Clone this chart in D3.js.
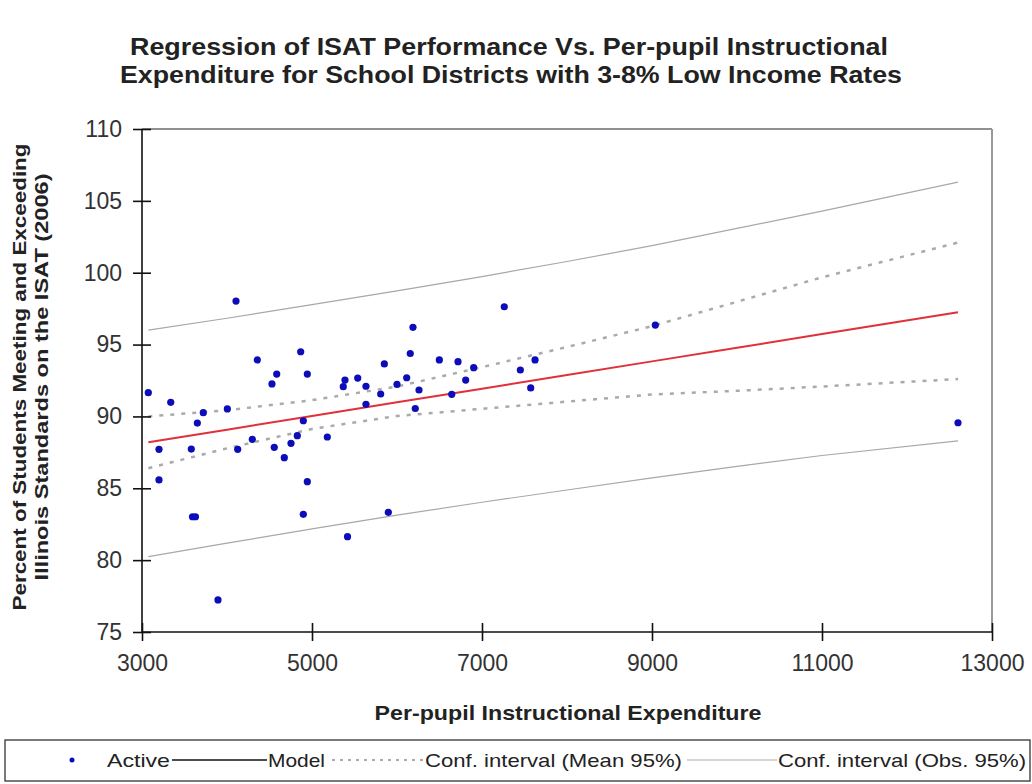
<!DOCTYPE html>
<html>
<head>
<meta charset="utf-8">
<script src="https://cdn.jsdelivr.net/npm/d3@7"></script>
<style>
  body { margin: 0; background: #fff; }
  svg { display: block; }
  text { font-family: "Liberation Sans", Arial, sans-serif; }
</style>
</head>
<body>
<svg id="chart" width="1032" height="784"></svg>
<script>
// Observations: per-pupil instructional expenditure vs. percent meeting/exceeding.
var spend = [3074, 3338, 3200, 3200, 3651, 3721, 3580, 3594, 3629, 4004,
             3894, 4126, 4298, 4356, 4585, 4529, 4867, 4945, 4898, 4827,
             4753, 4556, 4674, 5180, 4945, 4898, 5388, 5368, 5538, 5418,
             7262, 6188, 6156, 5851, 6498, 6718, 6902, 6808, 7451, 7624,
             7573, 5635, 5808, 5635, 6000, 6114, 6259, 6215, 6644, 5898,
             9039, 12600, 4106];
var score = [91.65, 90.98, 87.71, 85.58, 89.54, 90.26, 87.73, 83.02, 83.02, 90.52,
             77.23, 87.71, 88.41, 93.93, 92.95, 92.26, 94.5, 92.95, 89.7, 88.66,
             88.13, 87.85, 87.13, 88.57, 85.46, 83.19, 92.53, 92.07, 92.67, 81.63,
             97.63, 96.2, 94.38, 93.65, 93.93, 93.81, 93.39, 92.53, 93.23, 93.93,
             91.98, 92.1, 91.56, 90.84, 92.23, 92.69, 91.84, 90.55, 91.54, 83.33,
             96.36, 89.56, 98.03];

// Model line and confidence bands, read at these expenditures.
var bandX     = [3075, 4000, 5000, 6000, 7000, 8000, 9000, 10000, 11000, 12600];
var model     = [88.2, 89.08, 90.03, 90.98, 91.93, 92.88, 93.83, 94.78, 95.73, 97.25];
var meanUpper = [90.0, 90.43, 91.13, 92.08, 93.43, 94.83, 96.28, 97.98, 99.68, 102.1];
var meanLower = [86.4, 87.78, 89.13, 90.03, 90.53, 91.03, 91.53, 91.78, 92.08, 92.6];
var obsUpper  = [96.0, 96.83, 97.78, 98.73, 99.73, 100.78, 101.88, 103.08, 104.28, 106.3];
var obsLower  = [80.25, 81.18, 82.18, 83.13, 84.03, 84.88, 85.73, 86.53, 87.28, 88.3];

var xTicks = [3000, 5000, 7000, 9000, 11000, 13000];
var yTicks = [75, 80, 85, 90, 95, 100, 105, 110];

var svg = d3.select("#chart");

var x = d3.scaleLinear().domain([3000, 13000]).range([142, 992]);
var y = d3.scaleLinear().domain([75, 110]).range([632, 129]);

// Title
var title = svg.append("g").attr("font-weight", "bold").attr("font-size", 23)
    .attr("font-family", "'Liberation Sans Narrow', 'Liberation Sans', Arial, sans-serif")
    .attr("fill", "#222").attr("text-anchor", "middle");
title.append("text").attr("x", 509).attr("y", 55)
    .attr("textLength", 758).attr("lengthAdjust", "spacingAndGlyphs")
    .text("Regression of ISAT Performance Vs. Per-pupil Instructional");
title.append("text").attr("x", 511).attr("y", 83)
    .attr("textLength", 782).attr("lengthAdjust", "spacingAndGlyphs")
    .text("Expenditure for School Districts with 3-8% Low Income Rates");

// Frame: top line black, right line gray
svg.append("line").attr("x1", 142).attr("x2", 992).attr("y1", 129).attr("y2", 129)
    .attr("stroke", "#222").attr("stroke-width", 1.2);
svg.append("line").attr("x1", 992).attr("x2", 992).attr("y1", 129).attr("y2", 632)
    .attr("stroke", "#999").attr("stroke-width", 2);

// Lines
function lineOf(vals) {
    return d3.line()
        .x(function(d, i) { return x(bandX[i]); })
        .y(function(d) { return y(d); })(vals);
}

[obsUpper, obsLower].forEach(function(v) {
    svg.append("path").attr("d", lineOf(v)).attr("fill", "none")
        .attr("stroke", "#a8a8a8").attr("stroke-width", 1.2);
});
[meanUpper, meanLower].forEach(function(v) {
    svg.append("path").attr("d", lineOf(v)).attr("fill", "none")
        .attr("stroke", "#aaaaaa").attr("stroke-width", 2.5)
        .attr("stroke-dasharray", "4,7");
});
svg.append("path").attr("d", lineOf(model)).attr("fill", "none")
    .attr("stroke", "#e0303a").attr("stroke-width", 2);

// Points
svg.append("g").selectAll("circle")
    .data(d3.range(spend.length))
    .join("circle")
    .attr("cx", function(i) { return x(spend[i]); })
    .attr("cy", function(i) { return y(score[i]); })
    .attr("r", 3.6)
    .attr("fill", "#0c0cb8");

// Axes
var yAxis = svg.append("g").attr("transform", "translate(142,0)")
    .call(d3.axisLeft(y).tickValues(yTicks).tickSize(9).tickPadding(11));
yAxis.selectAll(".tick line").attr("x2", 9).attr("x1", -9);
var xAxis = svg.append("g").attr("transform", "translate(0,632)")
    .call(d3.axisBottom(x).tickValues(xTicks).tickSize(9).tickPadding(14)
        .tickFormat(d3.format("d")));
xAxis.selectAll(".tick line").attr("y1", -9).attr("y2", 9);

[yAxis, xAxis].forEach(function(a) {
    a.select(".domain").attr("stroke", "#111").attr("stroke-width", 1.6);
    a.selectAll(".tick line").attr("stroke", "#111").attr("stroke-width", 1.6);
    a.selectAll(".tick text").attr("font-size", 23).attr("fill", "#333")
        .attr("font-family", "Liberation Sans, Arial, sans-serif");
});
yAxis.select(".domain").attr("d", "M0,632V129");
xAxis.select(".domain").attr("d", "M142,0H992");

// Axis titles
svg.append("text").attr("x", 568).attr("y", 720).attr("text-anchor", "middle")
    .attr("font-weight", "bold").attr("font-size", 21).attr("fill", "#222")
    .attr("font-family", "'Liberation Sans Narrow', 'Liberation Sans', Arial, sans-serif")
    .attr("textLength", 387).attr("lengthAdjust", "spacingAndGlyphs")
    .text("Per-pupil Instructional Expenditure");

var yt = svg.append("g").attr("transform", "translate(0,377) rotate(-90)")
    .attr("text-anchor", "middle").attr("font-weight", "bold")
    .attr("font-size", 18).attr("fill", "#222");
yt.append("text").attr("x", 0).attr("y", 26)
    .attr("textLength", 467).attr("lengthAdjust", "spacingAndGlyphs")
    .text("Percent of Students Meeting and Exceeding");
yt.append("text").attr("x", 0).attr("y", 48)
    .attr("textLength", 407).attr("lengthAdjust", "spacingAndGlyphs")
    .text("Illinois Standards on the ISAT (2006)");

// Legend
var lg = svg.append("g");
lg.append("rect").attr("x", 5).attr("y", 740).attr("width", 1025).attr("height", 41)
    .attr("fill", "#fff").attr("stroke", "#333").attr("stroke-width", 1.3);
var ly = 760;
lg.append("circle").attr("cx", 72).attr("cy", ly).attr("r", 2.5).attr("fill", "#0c0cb8");
lg.append("line").attr("x1", 172).attr("x2", 267).attr("y1", ly).attr("y2", ly)
    .attr("stroke", "#111").attr("stroke-width", 1.5);
lg.append("line").attr("x1", 332).attr("x2", 423).attr("y1", ly).attr("y2", ly)
    .attr("stroke", "#aaa").attr("stroke-width", 2).attr("stroke-dasharray", "3,5");
lg.append("line").attr("x1", 687).attr("x2", 777).attr("y1", ly).attr("y2", ly)
    .attr("stroke", "#aaa").attr("stroke-width", 1.2);

var legendText = [
    { t: "Active", x: 107, w: 63 },
    { t: "Model", x: 268, w: 57 },
    { t: "Conf. interval (Mean 95%)", x: 425, w: 257 },
    { t: "Conf. interval (Obs. 95%)", x: 778, w: 248 }
];
lg.selectAll("text.lg").data(legendText).join("text")
    .attr("class", "lg")
    .attr("x", function(d) { return d.x; })
    .attr("y", ly + 7)
    .attr("font-size", 19).attr("fill", "#222")
    .attr("font-family", "'Liberation Sans Narrow', 'Liberation Sans', Arial, sans-serif")
    .attr("textLength", function(d) { return d.w; })
    .attr("lengthAdjust", "spacingAndGlyphs")
    .text(function(d) { return d.t; });
</script>
</body>
</html>
